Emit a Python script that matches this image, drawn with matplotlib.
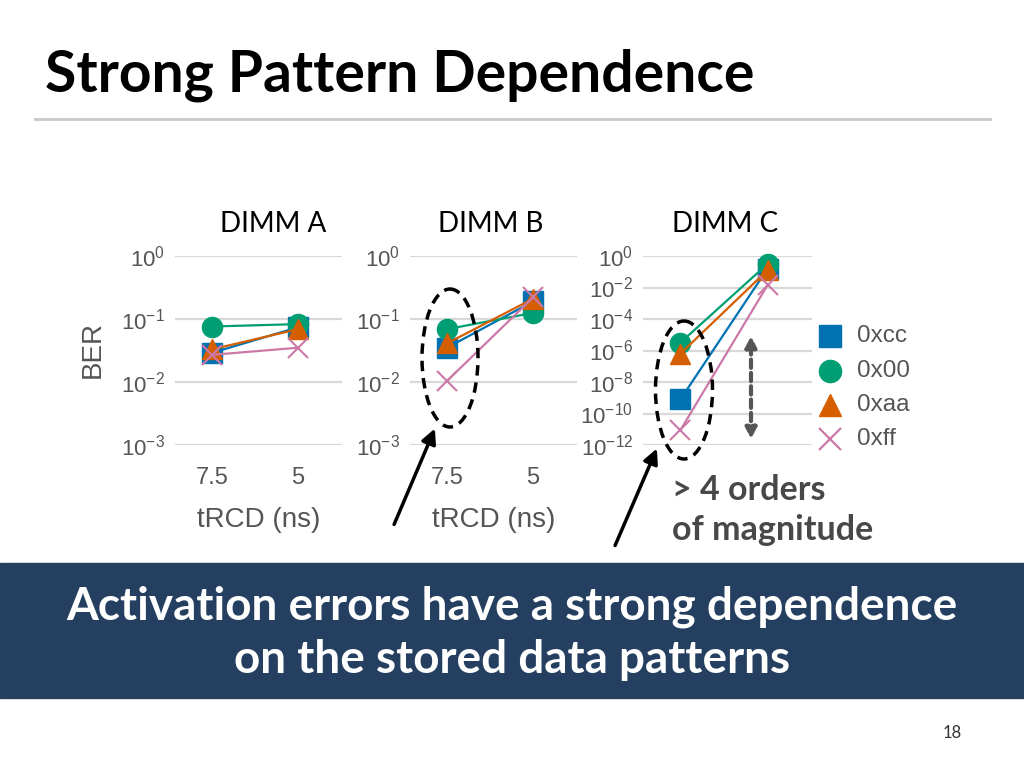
import numpy as np
import matplotlib.pyplot as plt
from matplotlib.patches import Ellipse, Rectangle, FancyArrowPatch

# data (BER per pattern, x = tRCD 7.5 ns, 5 ns)
trcd_labels = ['7.5', '5']
patterns = ['0xcc', '0x00', '0xaa', '0xff']
colors = ['#0072B2', '#009E73', '#D55E00', '#CC79A7']
markers = ['s', 'o', '^', 'x']

dimm_a = [[0.029, 0.074], [0.076, 0.083], [0.033, 0.069], [0.027, 0.035]]
dimm_b = [[0.035, 0.19], [0.069, 0.125], [0.041, 0.21], [0.0104, 0.22]]
dimm_c = [[10**-9.1, 10**-0.8], [10**-5.5, 10**-0.5], [10**-6.2, 10**-0.9], [10**-11.05, 10**-1.85]]

W, H = 1024, 768
fig = plt.figure(figsize=(W / 100, H / 100), dpi=100)
fig.patch.set_facecolor('white')

plt.rcParams['mathtext.fontset'] = 'custom'
plt.rcParams['mathtext.rm'] = 'Liberation Sans'
plt.rcParams['mathtext.it'] = 'Liberation Sans'

grey = '#555555'


def make_axes(left_px, right_px, data, ylim, yticks, title, title_x, show_x):
    ax = fig.add_axes([left_px / W, 1 - 445 / H, (right_px - left_px) / W, (445 - 256) / H])
    for vals, c, m in zip(data, colors, markers):
        mew = 1.5 if m == 'x' else 1
        ax.plot([0, 1], vals, color=c, lw=1.6, marker=m, ms=14 if m != 'o' else 14.5,
                mew=mew, clip_on=False)
    ax.set_yscale('log')
    ax.set_ylim(*ylim)
    ax.set_xlim(-0.43, 1.51)
    ax.set_yticks(yticks)
    ax.set_yticklabels(['$10^{%d}$' % int(round(np.log10(t))) for t in yticks],
                       fontsize=16, color=grey, family='Liberation Sans')
    ax.minorticks_off()
    ax.yaxis.grid(True, color='#d9d9d9', lw=1.6)
    ax.set_axisbelow(True)
    for s in ax.spines.values():
        s.set_visible(False)
    ax.tick_params(length=0, pad=7)
    if show_x:
        ax.set_xticks([0, 1])
        ax.set_xticklabels(trcd_labels, fontsize=17, color=grey, family='Liberation Sans')
        ax.tick_params(axis='x', pad=16)
        ax.set_xlabel('tRCD (ns)', fontsize=20, color=grey, family='Liberation Sans', labelpad=13)
    else:
        ax.set_xticks([])
    fig.text(title_x / W, 1 - 224 / H, title, fontsize=20,
             family='Lato', ha='center', va='center')
    return ax


dec3 = [1, 0.1, 0.01, 0.001]
ax_a = make_axes(175, 342, dimm_a, (1e-3, 1), dec3, 'DIMM A', 273, True)
ax_b = make_axes(410, 577, dimm_b, (1e-3, 1), dec3, 'DIMM B', 491, True)
ax_c = make_axes(643, 812, dimm_c, (1e-12, 1), [10.0 ** -k for k in range(0, 13, 2)],
                 'DIMM C', 725, False)

# overlay in pixel coordinates for slide decorations
ov = fig.add_axes([0, 0, 1, 1], facecolor='none')
ov.set_xlim(0, W)
ov.set_ylim(H, 0)
ov.axis('off')

ov.text(93, 350, 'BER', fontsize=20, color=grey, family='Liberation Sans',
        rotation=90, ha='center', va='center')

ov.text(45, 75, 'Strong Pattern Dependence', fontsize=41, fontweight='bold',
        family='Lato', va='center', ha='left')
ov.plot([35, 990], [119, 119], color='#c8c8c8', lw=2)

ov.add_patch(Rectangle((0, 563), W, 135, color='#243F60'))
ov.text(512, 607, 'Activation errors have a strong dependence', fontsize=33,
        fontweight='bold', family='Lato', color='white', ha='center', va='center')
ov.text(512, 660, 'on the stored data patterns', fontsize=33,
        fontweight='bold', family='Lato', color='white', ha='center', va='center')
ov.text(952, 733, '18', fontsize=12, family='Lato', color='#333333', ha='center', va='center')

# dashed ellipses and arrows
ov.add_patch(Ellipse((450, 358), 56, 138, fill=False, ls=(0, (3, 2)), lw=2.5, ec='black'))
ov.add_patch(Ellipse((684, 390), 57, 138, fill=False, ls=(0, (3, 2)), lw=2.5, ec='black'))
for x0, y0, x1, y1 in [(393, 527, 436, 426), (614, 548, 658, 446)]:
    ov.add_patch(FancyArrowPatch((x0, y0), (x1, y1), arrowstyle='-|>', mutation_scale=22,
                                 lw=2.5, color='black'))
ov.add_patch(FancyArrowPatch((751, 442), (751, 333), arrowstyle='<|-|>', mutation_scale=16,
                             lw=3, color='#555555', ls=(0, (2, 1.2))))

ov.text(672, 490, '> 4 orders', fontsize=24.5, fontweight='bold', family='Lato',
        color='#484848', va='center', ha='left')
ov.text(672, 530, 'of magnitude', fontsize=24.5, fontweight='bold', family='Lato',
        color='#484848', va='center', ha='left')

# legend
leg_y = [336, 371, 405, 439]
for y, c, m, lab in zip(leg_y, colors, markers, patterns):
    ov.plot([830], [y], marker=m, color=c, ms=16, mew=1.6 if m == 'x' else 1, ls='none')
    ov.text(857, y, lab, fontsize=17.5, color=grey, family='Liberation Sans', va='center')

fig.savefig('out.png', dpi=100)
